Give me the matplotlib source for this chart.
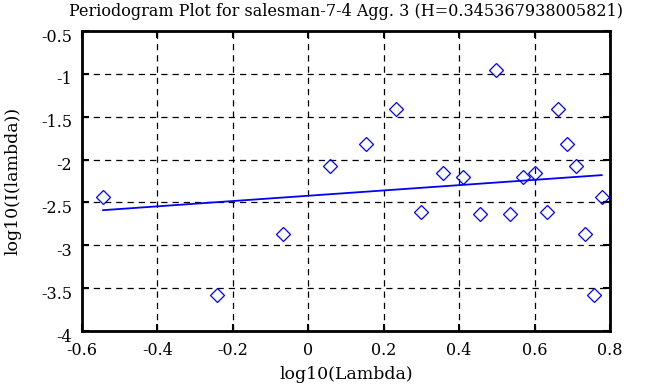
import matplotlib
matplotlib.use("Agg")
import matplotlib.pyplot as plt
import matplotlib.transforms as mtransforms
import numpy as np
from matplotlib.ticker import FuncFormatter

log_lambda = [-0.544, -0.243, -0.067, 0.058, 0.154, 0.233, 0.300, 0.358, 0.409, 0.455,
              0.497, 0.535, 0.570, 0.602, 0.633, 0.661, 0.686, 0.711, 0.735, 0.757, 0.778]
log_I = [-2.442, -3.579, -2.865, -2.076, -1.824, -1.411, -2.616, -2.158, -2.204, -2.636,
         -0.953, -2.636, -2.204, -2.158, -2.616, -1.411, -1.824, -2.076, -2.865, -3.579, -2.442]
H = 0.345367938005821
fit_intercept = -2.422
title = "Periodogram Plot for salesman-7-4 Agg. 3 (H=0.345367938005821)"
xticks = [-0.6, -0.4, -0.2, 0, 0.2, 0.4, 0.6, 0.8]
yticks = [-4, -3.5, -3, -2.5, -2, -1.5, -1, -0.5]

plt.rcParams['font.family'] = ['DejaVu Serif']
plt.rcParams['axes.unicode_minus'] = False

fig = plt.figure(figsize=(6.63, 3.87), dpi=100)
ax = fig.add_axes([82/663, 1-331/387, 528/663, 300/387])

x = np.array(log_lambda)
y = np.array(log_I)
slope = 1 - 2*H
ax.plot(x, slope*x + fit_intercept, color='blue', lw=1.3)
ax.plot(x, y, linestyle='none', marker='D', markersize=7, markerfacecolor='none',
        markeredgecolor='blue', markeredgewidth=0.9)

ax.set_xlim(-0.6, 0.8)
ax.set_ylim(-4, -0.5)
ax.set_xticks(xticks)
ax.set_yticks(yticks)
fmt = FuncFormatter(lambda v, p: '%g' % v)
ax.xaxis.set_major_formatter(fmt)
ax.yaxis.set_major_formatter(fmt)
ax.grid(True, color='black', linestyle=(0, (5, 4)), linewidth=0.9)
ax.tick_params(direction='in', top=True, right=True, length=5, width=1.5, labelsize=11.5, colors='black')
ax.tick_params(axis='x', pad=8)
ax.tick_params(axis='y', pad=7)
for s in ax.spines.values():
    s.set_linewidth(2)
off = mtransforms.ScaledTranslation(0, -4/100, fig.dpi_scale_trans)
for lab in ax.get_yticklabels():
    lab.set_transform(lab.get_transform() + off)
ax.set_title(title, fontsize=11.5, pad=11)
ax.set_xlabel("log10(Lambda)", fontsize=12.5, labelpad=5)
ax.set_ylabel("log10(I(lambda))", fontsize=12.5, labelpad=14)

fig.savefig("out.png", dpi=100)
